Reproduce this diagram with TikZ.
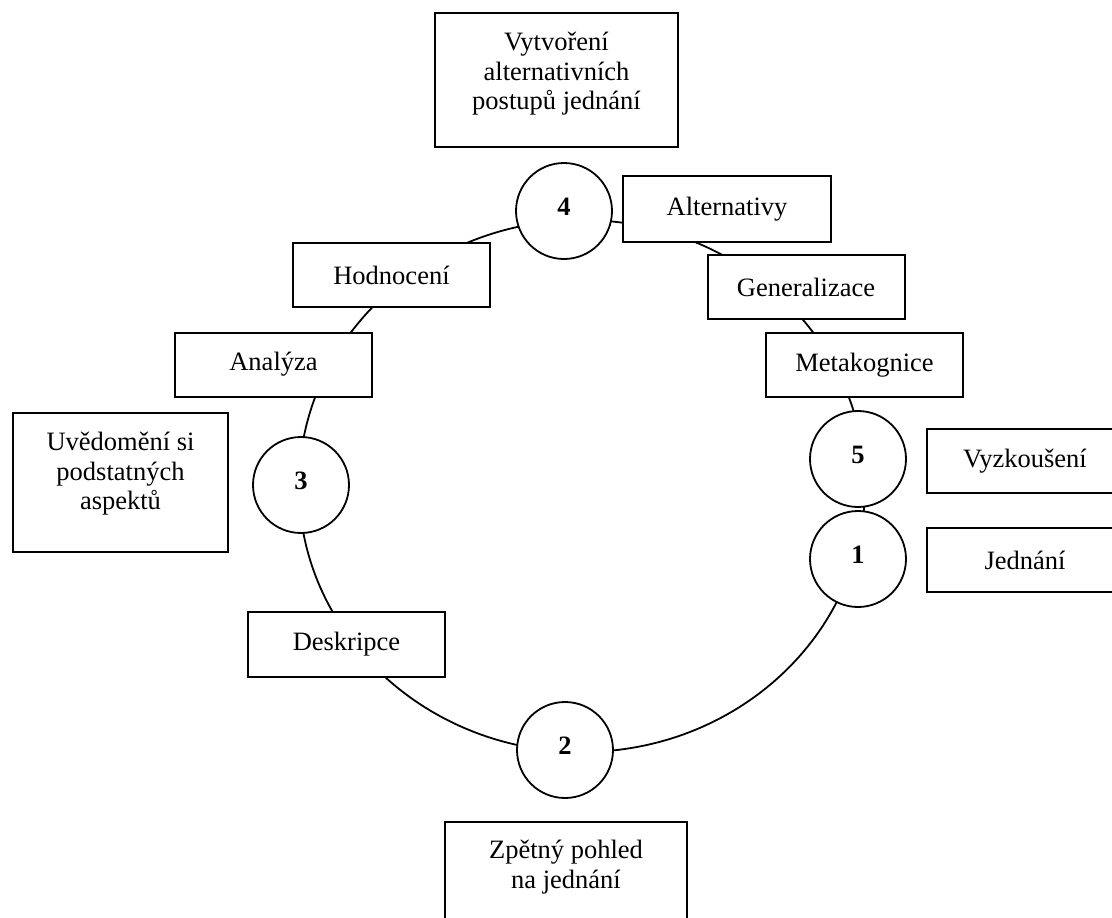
\documentclass[tikz,border=0pt]{standalone}
\usepackage{fontspec}
\setmainfont{Liberation Serif}
\begin{document}
\begin{tikzpicture}[x=1pt,y=-1pt,
  every node/.style={font=\fontsize{26.5}{29.5}\selectfont},
  stage/.style={circle,draw,line width=1.8pt,fill=white,minimum size=96pt,inner sep=0pt,text depth=8pt,font=\fontsize{26.5}{29.5}\selectfont\bfseries},
  tag/.style={rectangle,draw,line width=2pt,fill=white,minimum width=197pt,minimum height=64pt,inner sep=0pt},
  bigbox/.style={rectangle,draw,line width=2pt,fill=white,minimum width=243pt,minimum height=134pt,inner sep=0pt},
  caption/.style={align=center,inner sep=0pt}]
\useasboundingbox (0,0) rectangle (1112,918);
\clip (0,0) rectangle (1112,918);

% the cycle line behind all stages
\coordinate (hub) at (582,486);
\draw[line width=1.8pt] (hub) ellipse [x radius=283pt, y radius=266pt];

% numbered stages
\node[stage] (s4) at (564,211) {4};
\node[stage] (s3) at (301,485) {3};
\node[stage] (s5) at (858,459) {5};
\node[stage] (s1) at (858,559) {1};
\node[stage] (s2) at (565,750) {2};

% labels on the cycle
\node[tag,minimum width=208pt,minimum height=66pt] (alt) at (727,209) {Alternativy};
\node[tag] (gen) at (806,287) {Generalizace};
\node[tag] (meta) at (864.5,365) {Metakognice};
\node[tag] (hod) at (391.5,275) {Hodnocení};
\node[tag] (ana) at (273.5,364.5) {Analýza};
\node[tag,minimum height=65pt] (des) at (346.5,644.5) {Deskripce};
\node[tag,minimum width=196pt] (vyz) at (1025,461) {Vyzkoušení};
\node[tag,minimum width=196pt] (jed) at (1025,560) {Jednání};

% phase descriptions
\node[bigbox] (topbox) at (556.5,80) {};
\node[caption] (toptext) at (556.5,74) {Vytvoření\\alternativních\\postupů jednání};
\node[bigbox,minimum width=215pt,minimum height=139pt] (leftbox) at (120.5,482.5) {};
\node[caption] (lefttext) at (120.5,474) {Uvědomění si\\podstatných\\aspektů};
\node[bigbox,minimum width=242pt] (botbox) at (566,889) {};
\node[caption] (bottext) at (566,867) {Zpětný pohled\\na jednání};
\end{tikzpicture}
\end{document}
